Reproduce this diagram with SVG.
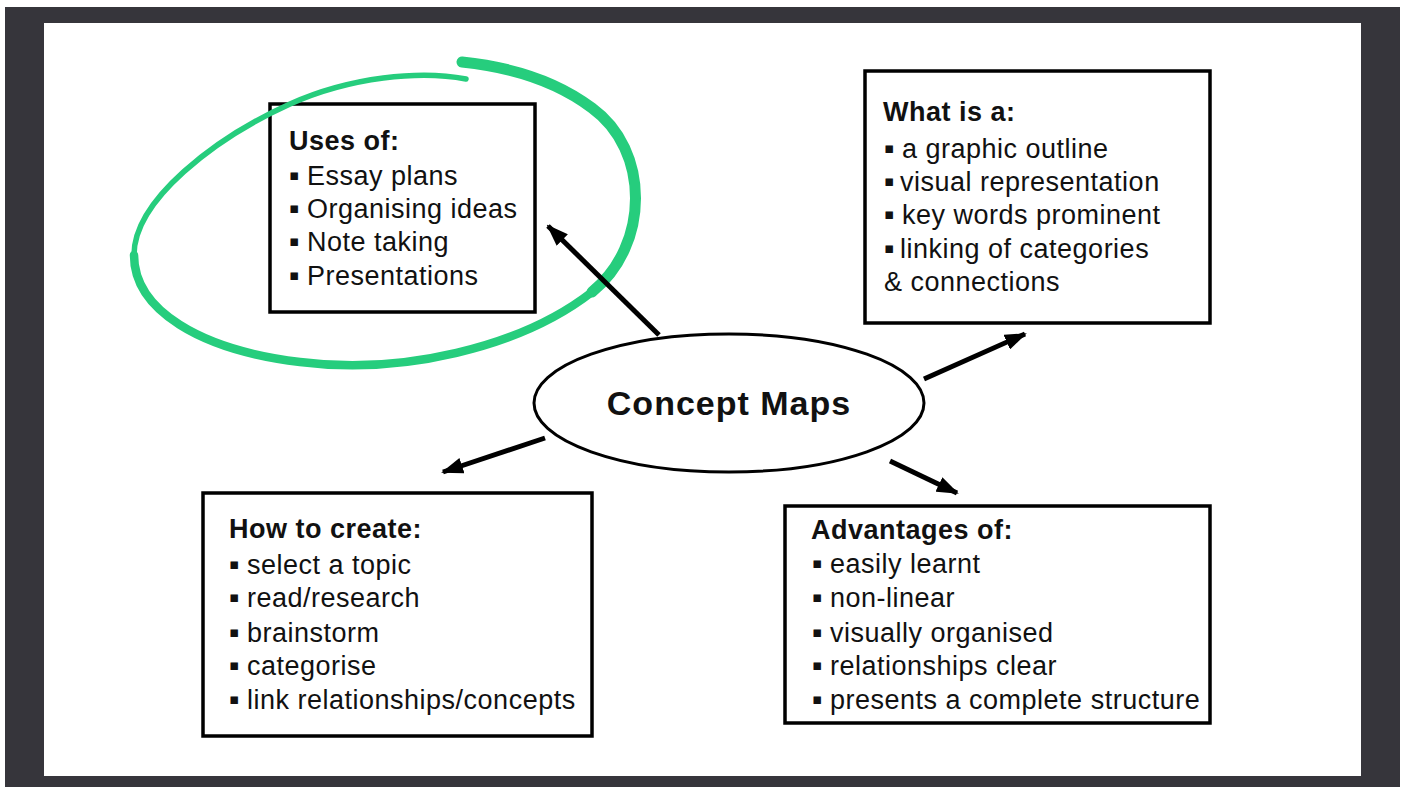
<svg xmlns="http://www.w3.org/2000/svg" width="1405" height="787" viewBox="0 0 1405 787">
<defs>
<style>
.box{fill:#fff;stroke:#000;stroke-width:3.5}
.t{font-family:"Liberation Sans",Arial,sans-serif;font-size:27px;fill:#111;letter-spacing:0.5px}
.h{font-weight:bold}
.b{font-family:"DejaVu Sans",sans-serif;font-size:15px;letter-spacing:0}
.con{stroke:#000;stroke-width:5;fill:none;marker-end:url(#ah)}
.green{fill:none;stroke:#26cd7d;stroke-linecap:round;stroke-linejoin:round}
</style>
<marker id="ah" markerUnits="userSpaceOnUse" markerWidth="22" markerHeight="16" refX="20" refY="8" orient="auto">
<path d="M0,0 L22,8 L0,16 z" fill="#000"/>
</marker>
</defs>
<rect x="0" y="0" width="1405" height="787" fill="#fff"/>
<rect x="5" y="7" width="1395" height="780" fill="#36353b"/>
<rect x="44" y="23" width="1317" height="753" fill="#fff"/>

<g id="uses">
<rect class="box" x="270" y="104" width="265" height="208"/>
<text class="t h" x="289" y="150">Uses of:</text>
<text class="t"><tspan class="b" x="289" y="180">▪</tspan><tspan x="307" y="185">Essay plans</tspan></text>
<text class="t"><tspan class="b" x="289" y="213">▪</tspan><tspan x="307" y="218">Organising ideas</tspan></text>
<text class="t"><tspan class="b" x="289" y="246">▪</tspan><tspan x="307" y="251">Note taking</tspan></text>
<text class="t"><tspan class="b" x="289" y="280">▪</tspan><tspan x="307" y="285">Presentations</tspan></text>
</g>

<g id="whatis">
<rect class="box" x="865" y="71" width="345" height="252"/>
<text class="t h" x="883" y="121">What is a:</text>
<text class="t"><tspan class="b" x="884" y="153">▪</tspan><tspan x="902" y="158">a graphic outline</tspan></text>
<text class="t"><tspan class="b" x="884" y="186">▪</tspan><tspan x="900" y="191">visual representation</tspan></text>
<text class="t"><tspan class="b" x="884" y="219">▪</tspan><tspan x="902" y="224">key words prominent</tspan></text>
<text class="t"><tspan class="b" x="884" y="253">▪</tspan><tspan x="900" y="258">linking of categories</tspan></text>
<text class="t" x="884" y="291">&amp; connections</text>
</g>

<g id="howto">
<rect class="box" x="203" y="493" width="389" height="243"/>
<text class="t h" x="229" y="538">How to create:</text>
<text class="t"><tspan class="b" x="229" y="569">▪</tspan><tspan x="247" y="574">select a topic</tspan></text>
<text class="t"><tspan class="b" x="229" y="602">▪</tspan><tspan x="247" y="607">read/research</tspan></text>
<text class="t"><tspan class="b" x="229" y="637">▪</tspan><tspan x="247" y="642">brainstorm</tspan></text>
<text class="t"><tspan class="b" x="229" y="670">▪</tspan><tspan x="247" y="675">categorise</tspan></text>
<text class="t"><tspan class="b" x="229" y="704">▪</tspan><tspan x="247" y="709">link relationships/concepts</tspan></text>
</g>

<g id="advantages">
<rect class="box" x="785" y="506" width="425" height="217"/>
<text class="t h" x="811" y="539">Advantages of:</text>
<text class="t"><tspan class="b" x="812" y="568">▪</tspan><tspan x="830" y="573">easily learnt</tspan></text>
<text class="t"><tspan class="b" x="812" y="602">▪</tspan><tspan x="830" y="607">non-linear</tspan></text>
<text class="t"><tspan class="b" x="812" y="637">▪</tspan><tspan x="830" y="642">visually organised</tspan></text>
<text class="t"><tspan class="b" x="812" y="670">▪</tspan><tspan x="830" y="675">relationships clear</tspan></text>
<text class="t"><tspan class="b" x="812" y="704">▪</tspan><tspan x="830" y="709">presents a complete structure</tspan></text>
</g>

<g id="highlight">
<path class="green" stroke-width="5.5" d="M466,79 C420,70 350,77 290,104 C215,138 134,200 134,255"/>
<path class="green" stroke-width="8.5" d="M134,255 C134,310 200,350 300,362 C400,375 520,348 592,292"/>
<path class="green" stroke-width="11" d="M592,292 C650,245 650,150 592,108 C555,80 510,67 462,62"/>
</g>

<g id="connectors">
<path class="con" d="M659,335 L548,226"/>
<path class="con" d="M924,379 L1025,334"/>
<path class="con" d="M545,438 L443,472"/>
<path class="con" d="M890,461 L957,493"/>
</g>

<g id="center">
<ellipse cx="729" cy="403" rx="195" ry="69" fill="#fff" stroke="#000" stroke-width="3"/>
<text x="729" y="415" text-anchor="middle" font-family="Liberation Sans, Arial, sans-serif" font-weight="bold" font-size="34" letter-spacing="1" fill="#111">Concept Maps</text>
</g>
</svg>
